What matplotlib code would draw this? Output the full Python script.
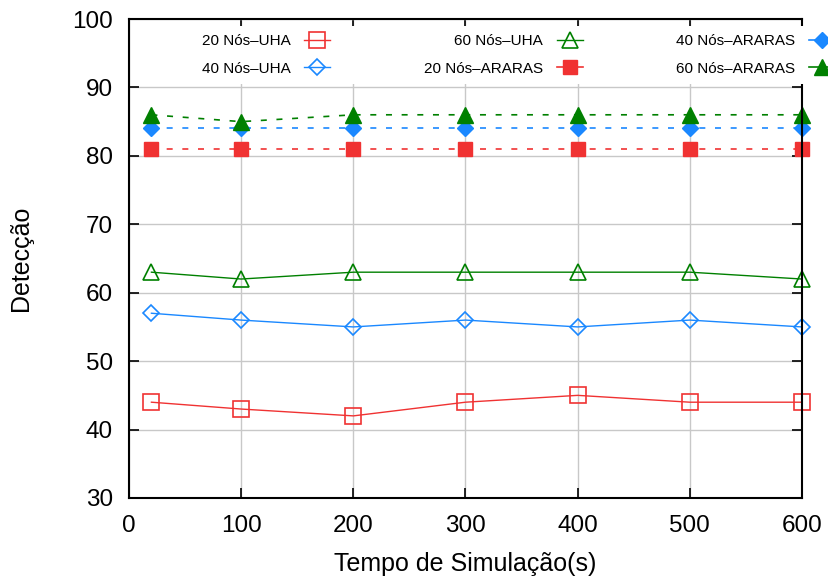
import matplotlib
matplotlib.use("Agg")
import matplotlib.pyplot as plt

plt.rcParams['font.family'] = ['Liberation Sans', 'DejaVu Sans']

tempo = [20, 100, 200, 300, 400, 500, 600]
uha_20 = [44, 43, 42, 44, 45, 44, 44]
uha_40 = [57, 56, 55, 56, 55, 56, 55]
uha_60 = [63, 62, 63, 63, 63, 63, 62]
araras_20 = [81, 81, 81, 81, 81, 81, 81]
araras_40 = [84, 84, 84, 84, 84, 84, 84]
araras_60 = [86, 85, 86, 86, 86, 86, 86]

labels = ['20 Nós–UHA', '40 Nós–UHA', '60 Nós–UHA',
          '20 Nós–ARARAS', '40 Nós–ARARAS', '60 Nós–ARARAS']
xticks = [0, 100, 200, 300, 400, 500, 600]
yticks = [30, 40, 50, 60, 70, 80, 90, 100]

RED = '#f03232'
BLUE = '#1a88ff'
GREEN = '#008000'

fig = plt.figure(figsize=(8.29, 5.81), dpi=100)
ax = fig.add_axes([129/829, 1-498/581, (802-129)/829, (498-19)/581])

lw = 1.0
dash = (0, (3.6, 5.8))
ax.plot(tempo, uha_20, color=RED, lw=lw, marker='s', ms=11, mfc='none', mew=1.2,
        label=labels[0], clip_on=False)
ax.plot(tempo, uha_40, color=BLUE, lw=lw, marker='D', ms=8.2, mfc='none', mew=1.2,
        label=labels[1], clip_on=False)
ax.plot(tempo, uha_60, color=GREEN, lw=lw, marker='^', ms=11, mfc='none', mew=1.2,
        label=labels[2], clip_on=False)
ax.plot(tempo, araras_20, color=RED, lw=1.2, ls=dash, marker='s', ms=10.5,
        label=labels[3], clip_on=False)
ax.plot(tempo, araras_40, color=BLUE, lw=1.2, ls=dash, marker='D', ms=8.2,
        label=labels[4], clip_on=False)
ax.plot(tempo, araras_60, color=GREEN, lw=1.2, ls=dash, marker='^', ms=11,
        label=labels[5], clip_on=False)

ax.set_xlim(0, 600)
ax.set_ylim(30, 100)
ax.set_xticks(xticks)
ax.set_yticks(yticks)
ax.grid(True, color='#c8c8c8', lw=1.0)
ax.set_axisbelow(True)
ax.tick_params(direction='in', length=7, width=1.2, top=True, right=True,
               labelsize=17.5)
ax.tick_params(axis='x', pad=12)
ax.tick_params(axis='y', pad=11.5)
for s in ax.spines.values():
    s.set_linewidth(1.5)

ax.set_xlabel('Tempo de Simulação(s)', fontsize=18, labelpad=11)
ax.set_ylabel('Detecção', fontsize=18, labelpad=28)

handles, lbls = ax.get_legend_handles_labels()
leg = fig.legend(handles, lbls, ncol=3, markerfirst=False, loc='upper right',
                 bbox_to_anchor=(843/829, 1-26/581), bbox_transform=fig.transFigure,
                 fontsize=11, frameon=True, facecolor='white', edgecolor='none',
                 framealpha=1.0, fancybox=False, borderpad=0.52, labelspacing=0.9,
                 handlelength=1.7, handletextpad=0.92, columnspacing=6.1,
                 borderaxespad=0)
for lh in leg.get_lines():
    lh.set_linestyle('-')
leg.set_zorder(1.5)

fig.savefig('out.png', dpi=100)
